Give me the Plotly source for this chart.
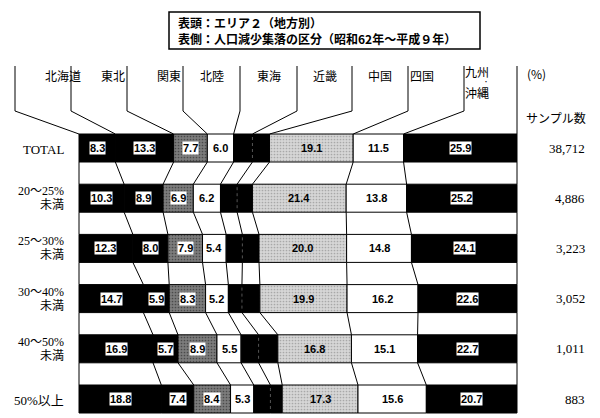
import plotly.graph_objects as go

# ---- data ------------------------------------------------------------------
regions = ["北海道", "東北", "関東", "北陸", "東海", "近畿", "中国", "四国", "九州・沖縄"]
row_top = ["TOTAL", "20～25%", "25～30%", "30～40%", "40～50%", "50%以上"]
row_sub = ["", "未満", "未満", "未満", "未満", ""]
samples = ["38,712", "4,886", "3,223", "3,052", "1,011", "883"]

hokkaido = [8.3, 10.3, 12.3, 14.7, 16.9, 18.8]
tohoku = [13.3, 8.9, 8.0, 5.9, 5.7, 7.4]
kanto = [7.7, 6.9, 7.9, 8.3, 8.9, 8.4]
hokuriku = [6.0, 6.2, 5.4, 5.2, 5.5, 5.3]
tokai = [4.3, 3.8, 3.7, 3.1, 4.0, 3.8]      # unlabeled in the source
kinki = [3.9, 3.5, 3.8, 4.1, 4.4, 2.7]      # unlabeled in the source
chugoku = [19.1, 21.4, 20.0, 19.9, 16.8, 17.3]
shikoku = [11.5, 13.8, 14.8, 16.2, 15.1, 15.6]
kyushu = [25.9, 25.2, 24.1, 22.6, 22.7, 20.7]

series = [hokkaido, tohoku, kanto, hokuriku, tokai, kinki, chugoku, shikoku, kyushu]

# ---- styles / layout constants ----------------------------------------------
W, H = 600, 418
PX0, PX1 = 79, 517              # bar area left / right in pixels
SCALE = (PX1 - PX0) / 100.0
Y0, PITCH, BAR_H = 148, 50.2, 28
HEAD_TOP, HEAD_BEND = 66, 111
HEAD_EDGES_PX = [15, 71, 127, 183, 240, 297, 352, 408, 464]

# fill, pattern fg, label mode ('box' = white box, 'plain', None)
style = [
    ("black", None, "box"),
    ("black", None, "box"),
    ("#7c7c7c", "#4a4a4a", "box"),
    ("white", None, "plain"),
    ("black", None, None),
    ("black", None, None),
    ("#d6d6d6", "#a8a8a8", "plain"),
    ("white", None, "plain"),
    ("black", None, "box"),
]

JP = "Noto Sans CJK JP"
SERIF = "Liberation Serif, Noto Sans CJK JP"
NUM = "Liberation Sans"


def px2x(px):
    return (px - PX0) / SCALE


rows_y = [Y0 + PITCH * i for i in range(len(row_top))]

# cumulative edges per row
edges = []
for i in range(len(rows_y)):
    acc = [0.0]
    for s in series:
        acc.append(acc[-1] + s[i])
    edges.append(acc)

fig = go.Figure()

for k, (name, vals) in enumerate(zip(regions, series)):
    fill, fg, _ = style[k]
    marker = dict(color=fill, line=dict(color="black", width=1))
    if fg:
        marker["pattern"] = dict(shape=".", bgcolor=fill, fgcolor=fg,
                                 size=3, solidity=0.25, fillmode="replace")
    fig.add_trace(go.Bar(
        y=rows_y, x=vals, base=[edges[i][k] for i in range(len(rows_y))],
        orientation="h", width=BAR_H, name=name, marker=marker,
        hoverinfo="skip", showlegend=False))

# dotted divider between 東海 and 近畿 (both black)
dx, dy = [], []
for i, y in enumerate(rows_y):
    dx += [edges[i][5], edges[i][5], None]
    dy += [y - BAR_H / 2 + 3, y + BAR_H / 2 - 3, None]
fig.add_trace(go.Scatter(x=dx, y=dy, mode="lines", hoverinfo="skip",
                         line=dict(color="#555555", width=1, dash="dot"),
                         showlegend=False))

# connectors between consecutive rows
cx, cy = [], []
for i in range(len(rows_y) - 1):
    for k in range(0, len(series) + 1):
        cx += [edges[i][k], edges[i + 1][k], None]
        cy += [rows_y[i] + BAR_H / 2, rows_y[i + 1] - BAR_H / 2, None]
fig.add_trace(go.Scatter(x=cx, y=cy, mode="lines", hoverinfo="skip",
                         line=dict(color="black", width=1), showlegend=False))

# header leader lines to the TOTAL bar
hx, hy = [], []
for k, epx in enumerate(HEAD_EDGES_PX):
    hx += [px2x(epx), px2x(epx), edges[0][k], None]
    hy += [HEAD_TOP, HEAD_BEND, rows_y[0] - BAR_H / 2, None]
hx += [edges[0][-1], edges[0][-1], None]
hy += [HEAD_TOP, rows_y[0] - BAR_H / 2, None]
fig.add_trace(go.Scatter(x=hx, y=hy, mode="lines", hoverinfo="skip",
                         line=dict(color="black", width=1), showlegend=False))

ann = []
# value labels
for k, vals in enumerate(series):
    mode = style[k][2]
    if mode is None:
        continue
    for i, v in enumerate(vals):
        mid = (edges[i][k] + edges[i][k + 1]) / 2
        a = dict(x=mid, y=rows_y[i], xref="x", yref="y", text=f"{v:.1f}",
                 showarrow=False,
                 font=dict(family=NUM, size=11, color="black", weight="bold"))
        if mode == "box":
            a.update(bgcolor="white", borderpad=0)
        ann.append(a)

# header labels
head_right = HEAD_EDGES_PX[1:] + [PX1]
for k, name in enumerate(regions[:-1]):
    cxp = (HEAD_EDGES_PX[k] + head_right[k]) / 2
    ann.append(dict(x=cxp / W, y=75, xref="paper", yref="y", text=name,
                    showarrow=False, font=dict(family=JP, size=12, color="black")))
cxp = (HEAD_EDGES_PX[-1] + PX1) / 2
top_txt, bot_txt = regions[-1].split("・")
ann.append(dict(x=cxp / W, y=71, xref="paper", yref="y", text=top_txt,
                showarrow=False, font=dict(family=JP, size=12, color="black")))
ann.append(dict(x=cxp / W, y=81.5, xref="paper", yref="y", text="・",
                showarrow=False, font=dict(family=JP, size=6, color="black")))
ann.append(dict(x=cxp / W, y=92, xref="paper", yref="y", text=bot_txt,
                showarrow=False, font=dict(family=JP, size=12, color="black")))

ann.append(dict(x=525 / W, y=73, xref="paper", yref="y", text="(%)", xanchor="left",
                showarrow=False, font=dict(family=JP, size=12, color="black")))
ann.append(dict(x=524 / W, y=117, xref="paper", yref="y", text="サンプル数",
                xanchor="left", showarrow=False,
                font=dict(family=JP, size=12, color="black")))

# row labels and sample sizes
for i, y in enumerate(rows_y):
    if row_sub[i]:
        ann.append(dict(x=66 / W, y=y - 7, xref="paper", yref="y", text=row_top[i],
                        xanchor="right", showarrow=False,
                        font=dict(family=SERIF, size=12, color="black")))
        ann.append(dict(x=66 / W, y=y + 7, xref="paper", yref="y", text=row_sub[i],
                        xanchor="right", showarrow=False,
                        font=dict(family=SERIF, size=12, color="black")))
    else:
        ann.append(dict(x=66 / W, y=y + 1, xref="paper", yref="y", text=row_top[i],
                        xanchor="right", showarrow=False,
                        font=dict(family=SERIF, size=13, color="black")))
    ann.append(dict(x=587 / W, y=y, xref="paper", yref="y", text=samples[i],
                    xanchor="right", showarrow=False,
                    font=dict(family=SERIF, size=13, color="black")))

# title box
ann.append(dict(x=176 / W, y=30.5, xref="paper", yref="y", xanchor="left",
                align="left", showarrow=False,
                text="<b>表頭：エリア２（地方別）</b><br>"
                     "<b>表側：人口減少集落の区分（昭和62年～平成９年）</b>",
                font=dict(family=JP, size=12, color="black")))

fig.add_shape(type="rect", xref="paper", yref="y", x0=169 / W, x1=480 / W,
              y0=12, y1=49, line=dict(color="black", width=1.5))

fig.update_layout(
    width=W, height=H, autosize=False,
    margin=dict(l=0, r=0, t=0, b=0),
    paper_bgcolor="white", plot_bgcolor="white",
    barmode="overlay", annotations=ann,
    xaxis=dict(range=[px2x(0), px2x(W)], visible=False, fixedrange=True),
    yaxis=dict(range=[H, 0], visible=False, fixedrange=True),
)

fig.write_html("out.html", config={"displayModeBar": False},
               post_script="document.body.style.margin='0';"
                           "document.body.style.overflow='hidden';")
